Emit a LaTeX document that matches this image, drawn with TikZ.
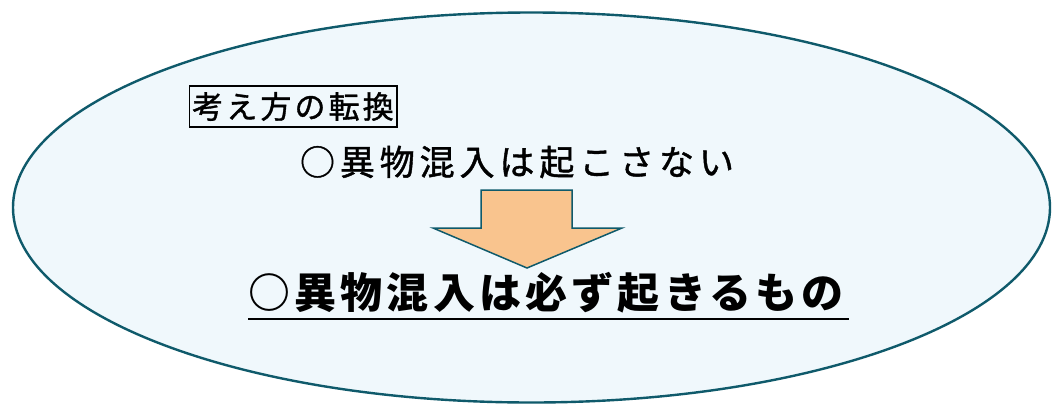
\documentclass[tikz,border=0pt]{standalone}
\usepackage{fontspec}
\newfontfamily\jpfontA[LetterSpace=10, FakeBold=1.2]{Noto Sans CJK JP}
\newfontfamily\jpfontC[LetterSpace=14, FakeBold=1.2]{Noto Sans CJK JP}
\newfontfamily\jpfontB[LetterSpace=10]{Noto Sans CJK JP}
\definecolor{ellfill}{HTML}{F0F8FC}
\definecolor{ellline}{HTML}{0F5A6B}
\definecolor{arrfill}{HTML}{F9C48E}
\tikzset{
  label box/.style={draw=black, line width=1.5pt, inner xsep=3pt, inner ysep=6pt, font=\jpfontA\fontsize{31}{33}\selectfont},
  line two/.style={inner sep=0pt, font=\jpfontC\fontsize{35}{38}\selectfont},
  line three/.style={inner sep=0pt, font=\jpfontB\fontsize{42}{46}\selectfont\bfseries},
}
\begin{document}
\begin{tikzpicture}[x=1pt,y=-1pt]
\useasboundingbox (0,0) rectangle (1052,405);
\fill[white] (0,0) rectangle (1052,405);
% ellipse
\draw[fill=ellfill, draw=ellline, line width=2.4pt] (531.5,207.5) ellipse [x radius=518.5, y radius=195];
% label box
\node[label box] (box) at (293,106.5) {考え方の転換};
% line two
\node[line two] (l2) at (517,162) {○異物混入は起こさない};
% arrow
\coordinate (a1) at (481,190);
\coordinate (a2) at (572,190);
\coordinate (a3) at (572,228);
\coordinate (a4) at (622,228);
\coordinate (a5) at (527,268);
\coordinate (a6) at (433,228);
\coordinate (a7) at (481,228);
\draw[fill=arrfill, draw=ellline, line width=1.5pt, line join=miter] (a1) -- (a2) -- (a3) -- (a4) -- (a5) -- (a6) -- (a7) -- cycle;
% line three
\node[line three] (l3) at (546,293) {○異物混入は必ず起きるもの};
\coordinate (u1) at (248,319);
\coordinate (u2) at (849,319);
\draw[line width=2.5pt] (u1) -- (u2);
\end{tikzpicture}
\end{document}
